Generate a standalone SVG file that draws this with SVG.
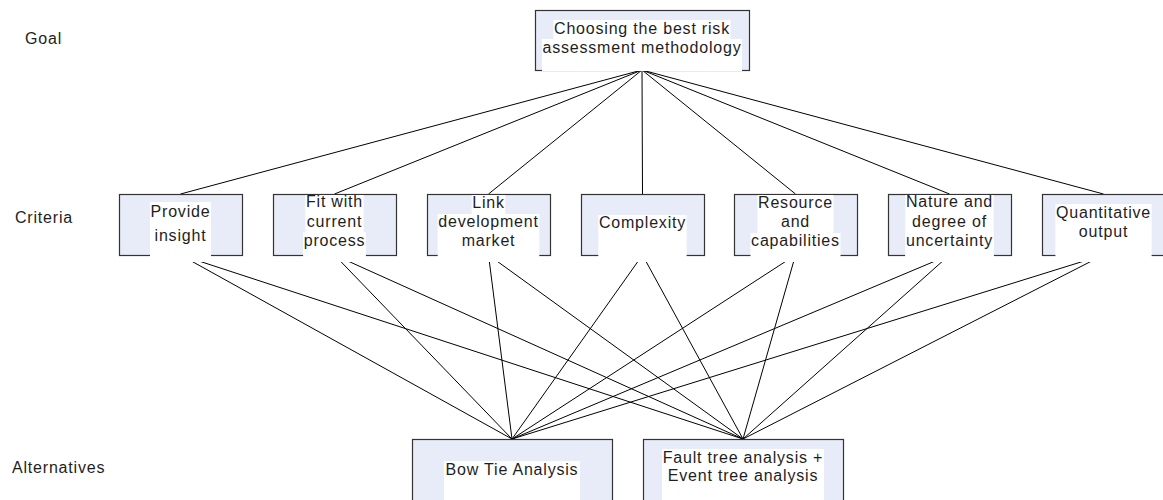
<svg xmlns="http://www.w3.org/2000/svg" width="1163" height="500" viewBox="0 0 1163 500">
  <style>
    .box { fill: #e8ecf8; stroke: #333333; stroke-width: 1.2; }
    .bg { fill: #ffffff; }
    .t { font-family: "Liberation Sans", Arial, sans-serif; font-size: 16px; letter-spacing: 0.8px; fill: #1e1e1e; text-anchor: middle; }
    .lbl { font-family: "Liberation Sans", Arial, sans-serif; font-size: 16px; letter-spacing: 0.8px; fill: #1e1e1e; }
    .edge { stroke: #000000; stroke-width: 1; fill: none; }
  </style>

  <!-- row labels -->
  <g id="labels">
    <text class="lbl" x="25" y="44">Goal</text>
    <text class="lbl" x="15" y="223">Criteria</text>
    <text class="lbl" x="12" y="473">Alternatives</text>
  </g>

  <!-- connectors: goal to criteria, criteria to alternatives -->
  <g id="connectors" class="edge">
    <path d="M642 70 L180.5 194"/>
    <path d="M642 70 L334.5 194"/>
    <path d="M642 70 L488.5 194"/>
    <path d="M642 70 L642.5 194"/>
    <path d="M642 70 L795.5 194"/>
    <path d="M642 70 L949.5 194"/>
    <path d="M642 70 L1103.5 194"/>

    <path d="M180.5 255 L512 439"/>
    <path d="M180.5 255 L743 439"/>
    <path d="M334.5 255 L512 439"/>
    <path d="M334.5 255 L743 439"/>
    <path d="M488.5 255 L512 439"/>
    <path d="M488.5 255 L743 439"/>
    <path d="M642.5 255 L512 439"/>
    <path d="M642.5 255 L743 439"/>
    <path d="M795.5 255 L512 439"/>
    <path d="M795.5 255 L743 439"/>
    <path d="M949.5 255 L512 439"/>
    <path d="M949.5 255 L743 439"/>
    <path d="M1103.5 255 L512 439"/>
    <path d="M1103.5 255 L743 439"/>
  </g>

  <!-- goal -->
  <g id="goal">
    <rect class="box" x="535.5" y="10.5" width="214" height="60"/>
    <rect class="bg" x="553.5" y="20" width="177" height="51"/>
    <rect class="bg" x="542" y="39" width="200" height="32"/>
    <text class="t" x="642" y="34">Choosing the best risk</text>
    <text class="t" x="642" y="53">assessment methodology</text>
  </g>

  <!-- criteria -->
  <g id="provide-insight">
    <rect class="box" x="119.5" y="194.5" width="123" height="61"/>
    <rect class="bg" x="150" y="202" width="61" height="60"/>
    <rect class="bg" x="154" y="227" width="53" height="35"/>
    <text class="t" x="180.5" y="216.5">Provide</text>
    <text class="t" x="180.5" y="240.5">insight</text>
  </g>

  <g id="fit-with-process">
    <rect class="box" x="273.5" y="194.5" width="123" height="61"/>
    <rect class="bg" x="305.3" y="195" width="58.3" height="67"/>
    <rect class="bg" x="306.2" y="213" width="56.6" height="49"/>
    <rect class="bg" x="303.1" y="232" width="62.8" height="30"/>
    <text class="t" x="334.5" y="207">Fit with</text>
    <text class="t" x="334.5" y="227">current</text>
    <text class="t" x="334.5" y="246">process</text>
  </g>

  <g id="link-development-market">
    <rect class="box" x="427.5" y="194.5" width="123" height="61"/>
    <rect class="bg" x="471.6" y="195" width="33.7" height="67"/>
    <rect class="bg" x="437.7" y="214" width="101.6" height="48"/>
    <rect class="bg" x="461" y="233" width="55" height="29"/>
    <text class="t" x="488.5" y="208">Link</text>
    <text class="t" x="488.5" y="227">development</text>
    <text class="t" x="488.5" y="246">market</text>
  </g>

  <g id="complexity">
    <rect class="box" x="581.5" y="194.5" width="123" height="61"/>
    <rect class="bg" x="598.3" y="215" width="88.3" height="47"/>
    <text class="t" x="642.5" y="228">Complexity</text>
  </g>

  <g id="resources-capabilities">
    <rect class="box" x="734.5" y="194.5" width="123" height="61"/>
    <rect class="bg" x="757.5" y="195" width="76" height="67"/>
    <rect class="bg" x="780.3" y="214" width="30.3" height="48"/>
    <rect class="bg" x="750.5" y="233" width="90" height="29"/>
    <text class="t" x="795.5" y="208">Resource</text>
    <text class="t" x="795.5" y="227">and</text>
    <text class="t" x="795.5" y="246">capabilities</text>
  </g>

  <g id="uncertainty">
    <rect class="box" x="888.5" y="194.5" width="123" height="61"/>
    <rect class="bg" x="905.3" y="195" width="88.4" height="67"/>
    <rect class="bg" x="911.5" y="214" width="76" height="48"/>
    <rect class="bg" x="905.3" y="233" width="88.3" height="29"/>
    <text class="t" x="949.5" y="207">Nature and</text>
    <text class="t" x="949.5" y="227">degree of</text>
    <text class="t" x="949.5" y="246">uncertainty</text>
  </g>

  <g id="quantitative-output">
    <rect class="box" x="1042.5" y="194.5" width="123" height="61"/>
    <rect class="bg" x="1055.4" y="204" width="96.2" height="58"/>
    <rect class="bg" x="1078.2" y="223" width="50.5" height="39"/>
    <text class="t" x="1103.5" y="218">Quantitative</text>
    <text class="t" x="1103.5" y="237">output</text>
  </g>

  <!-- alternatives -->
  <g id="bow-tie">
    <rect class="box" x="412.5" y="439.5" width="200" height="70"/>
    <rect class="bg" x="444" y="461" width="136" height="39"/>
    <text class="t" x="512" y="475">Bow Tie Analysis</text>
  </g>

  <g id="fault-event-tree">
    <rect class="box" x="643.5" y="439.5" width="200" height="70"/>
    <rect class="bg" x="662" y="449" width="162" height="51"/>
    <rect class="bg" x="667.2" y="467" width="151.6" height="33"/>
    <text class="t" x="743" y="463">Fault tree analysis +</text>
    <text class="t" x="743" y="481">Event tree analysis</text>
  </g>
</svg>
